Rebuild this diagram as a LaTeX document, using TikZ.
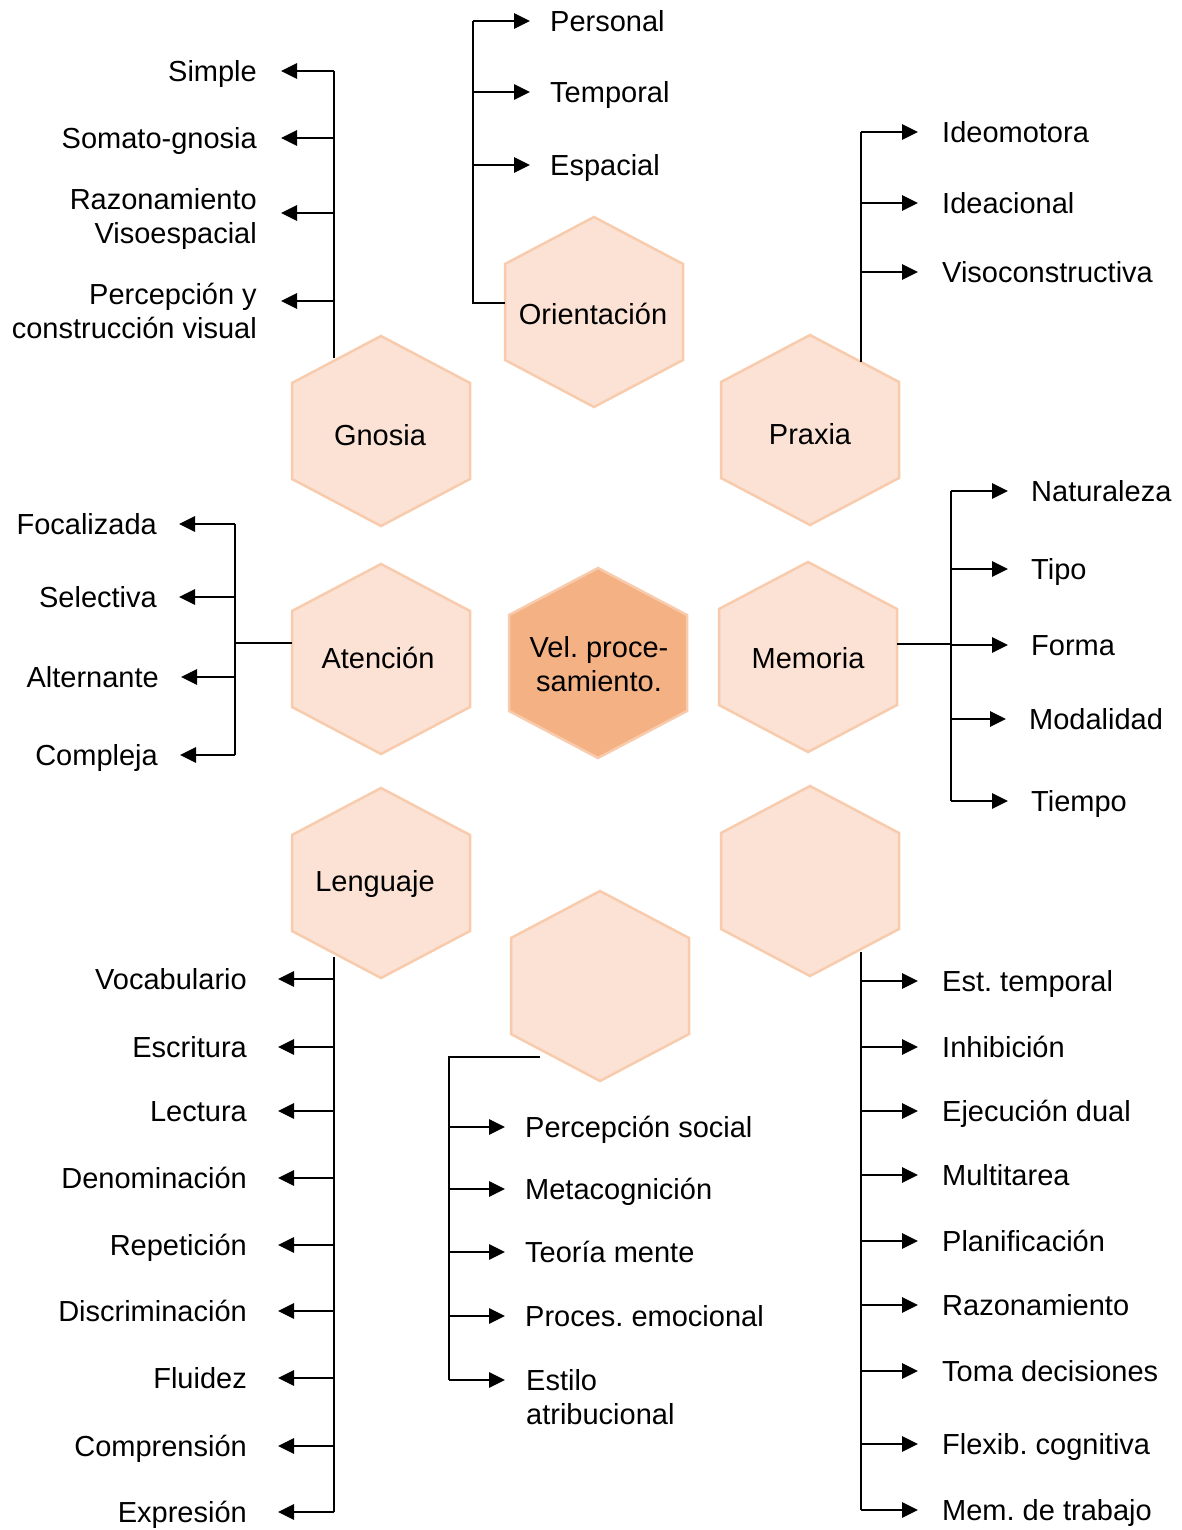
\documentclass[tikz,border=0pt]{standalone}
\usepackage{fontspec}
\setmainfont{Liberation Sans}
\usetikzlibrary{arrows.meta,positioning,calc}
\frenchspacing

\definecolor{hexfill}{HTML}{FBE2D5}
\definecolor{hexline}{HTML}{F8CBAD}
\definecolor{hexcore}{HTML}{F4B183}

\tikzset{
  pics/hexa/.style={code={
    \draw[line width=2.5pt,hexline,fill=#1] (0,-95) -- (89,-48) -- (89,48) -- (0,95) -- (-89,48) -- (-89,-48) -- cycle;
  }},
  hexlbl/.style={font=\fontsize{29}{34}\selectfont,align=center,inner sep=0},
  lbl/.style={font=\fontsize{29}{34}\selectfont,inner sep=0,text height=23pt,text depth=2pt},
  lbltwo/.style={font=\fontsize{29}{34}\selectfont,inner sep=0},
  trunk/.style={line width=1.5pt},
  arr/.style={line width=2.8pt,-{Triangle[length=16pt,width=15pt]},shorten >=24pt}
}

\begin{document}
\begin{tikzpicture}[x=1pt,y=-1pt]
\useasboundingbox (0,0) rectangle (1182,1530);

% hexagons
\pic at (594,312) {hexa=hexfill};
\pic at (381,431) {hexa=hexfill};
\pic at (810,430) {hexa=hexfill};
\pic at (381,659) {hexa=hexfill};
\pic at (598,663) {hexa=hexcore};
\pic at (808,657) {hexa=hexfill};
\pic at (381,883) {hexa=hexfill};
\pic at (810,881) {hexa=hexfill};
\pic at (600,986) {hexa=hexfill};

\node[hexlbl] (ori) at (593,314) {Orientación};
\node[hexlbl] (gno) at (380,435) {Gnosia};
\node[hexlbl] (pra) at (810,434) {Praxia};
\node[hexlbl] (ate) at (378,658) {Atención};
\node[hexlbl] (vel) at (599,664) {Vel. proce-\\samiento.};
\node[hexlbl] (mem) at (808,658) {Memoria};
\node[hexlbl] (len) at (375,884) {Lenguaje};

% orientacion
\coordinate (oj) at (505,303);
\coordinate (ot) at (473,303);
\node[lbl,anchor=west] (o1) at (550,21) {Personal};
\node[lbl,anchor=west] (o2) at (550,92) {Temporal};
\node[lbl,anchor=west] (o3) at (550,165) {Espacial};
\draw[trunk] (oj) -- (ot) -- (ot |- o1);
\foreach \i in {1,2,3}
  \draw[arr,shorten >=20pt] (ot |- o\i) -- (o\i);

% gnosia
\coordinate (gj) at (334,358);
\node[lbl,anchor=east] (g1) at (257,71) {Simple};
\node[lbl,anchor=east] (g2) at (257,138) {Somato-gnosia};
\node[lbltwo,anchor=north east,align=right] (g3) at (257,188) {Razonamiento\\Visoespacial};
\node[lbltwo,anchor=north east,align=right] (g4) at (257,283) {Percepción y\\construcción visual};
\draw[trunk] (gj) -- (gj |- g1);
\draw[arr] (gj |- g1) -- (g1);
\draw[arr] (gj |- g2) -- (g2);
\draw[arr] ($(gj |- g3.north)+(0,25)$) -- ($(g3.north east)+(0,25)$);
\draw[arr] ($(gj |- g4.north)+(0,18)$) -- ($(g4.north east)+(0,18)$);

% praxia
\coordinate (pj) at (861,362);
\node[lbl,anchor=west] (p1) at (942,132) {Ideomotora};
\node[lbl,anchor=west] (p2) at (942,203) {Ideacional};
\node[lbl,anchor=west] (p3) at (942,272) {Visoconstructiva};
\draw[trunk] (pj) -- (pj |- p1);
\foreach \i in {1,2,3}
  \draw[arr] (pj |- p\i) -- (p\i);

% atencion
\coordinate (aj) at (292,643);
\coordinate (at) at (235,643);
\node[lbl,anchor=east] (a1) at (157,524) {Focalizada};
\node[lbl,anchor=east] (a2) at (157,597) {Selectiva};
\node[lbl,anchor=east] (a3) at (159,677) {Alternante};
\node[lbl,anchor=east] (a4) at (158,755) {Compleja};
\draw[trunk] (aj) -- (at);
\draw[trunk] (at |- a1) -- (at |- a4);
\foreach \i in {1,...,4}
  \draw[arr,shorten >=22pt] (at |- a\i) -- (a\i);

% memoria
\coordinate (mj) at (897,644);
\coordinate (mt) at (951,644);
\node[lbl,anchor=west] (m1) at (1031,491) {Naturaleza};
\node[lbl,anchor=west] (m2) at (1031,569) {Tipo};
\node[lbl,anchor=west] (m3) at (1031,645) {Forma};
\node[lbl,anchor=west] (m4) at (1029,719) {Modalidad};
\node[lbl,anchor=west] (m5) at (1031,801) {Tiempo};
\draw[trunk] (mj) -- (mt);
\draw[trunk] (mt |- m1) -- (mt |- m5);
\foreach \i in {1,...,5}
  \draw[arr,shorten >=23pt] (mt |- m\i) -- (m\i);

% lenguaje
\coordinate (lj) at (334,957);
\foreach \t [count=\i] / \y in {Vocabulario/979,Escritura/1047,Lectura/1111,Denominación/1178,Repetición/1245,Discriminación/1311,Fluidez/1378,Comprensión/1446,Expresión/1512}
  \node[lbl,anchor=east] (l\i) at (247,\y) {\t};
\draw[trunk] (lj) -- (lj |- l9);
\foreach \i in {1,...,9}
  \draw[arr,shorten >=31pt] (lj |- l\i) -- (l\i);

% cognicion social
\coordinate (sj) at (540,1057);
\coordinate (st) at (449,1057);
\node[lbl,anchor=west] (s1) at (525,1127) {Percepción social};
\node[lbl,anchor=west] (s2) at (525,1189) {Metacognición};
\node[lbl,anchor=west] (s3) at (525,1252) {Teoría mente};
\node[lbl,anchor=west] (s4) at (525,1316) {Proces. emocional};
\node[lbltwo,anchor=north west,align=left] (s5) at (526,1369) {Estilo\\atribucional};
\draw[trunk] (sj) -- (st) -- ($(st |- s5.north)+(0,11)$);
\foreach \i in {1,...,4}
  \draw[arr,shorten >=20pt] (st |- s\i) -- (s\i);
\draw[arr,shorten >=21pt] ($(st |- s5.north)+(0,11)$) -- ($(s5.north west)+(0,11)$);

% funciones ejecutivas
\coordinate (ej) at (861,952);
\foreach \t [count=\i] / \y in {Est. temporal/981,Inhibición/1047,Ejecución dual/1111,Multitarea/1175,Planificación/1241,Razonamiento/1305,Toma decisiones/1371,Flexib. cognitiva/1444,Mem. de trabajo/1510}
  \node[lbl,anchor=west] (e\i) at (942,\y) {\t};
\draw[trunk] (ej) -- (ej |- e9);
\foreach \i in {1,...,9}
  \draw[arr] (ej |- e\i) -- (e\i);
\end{tikzpicture}
\end{document}
